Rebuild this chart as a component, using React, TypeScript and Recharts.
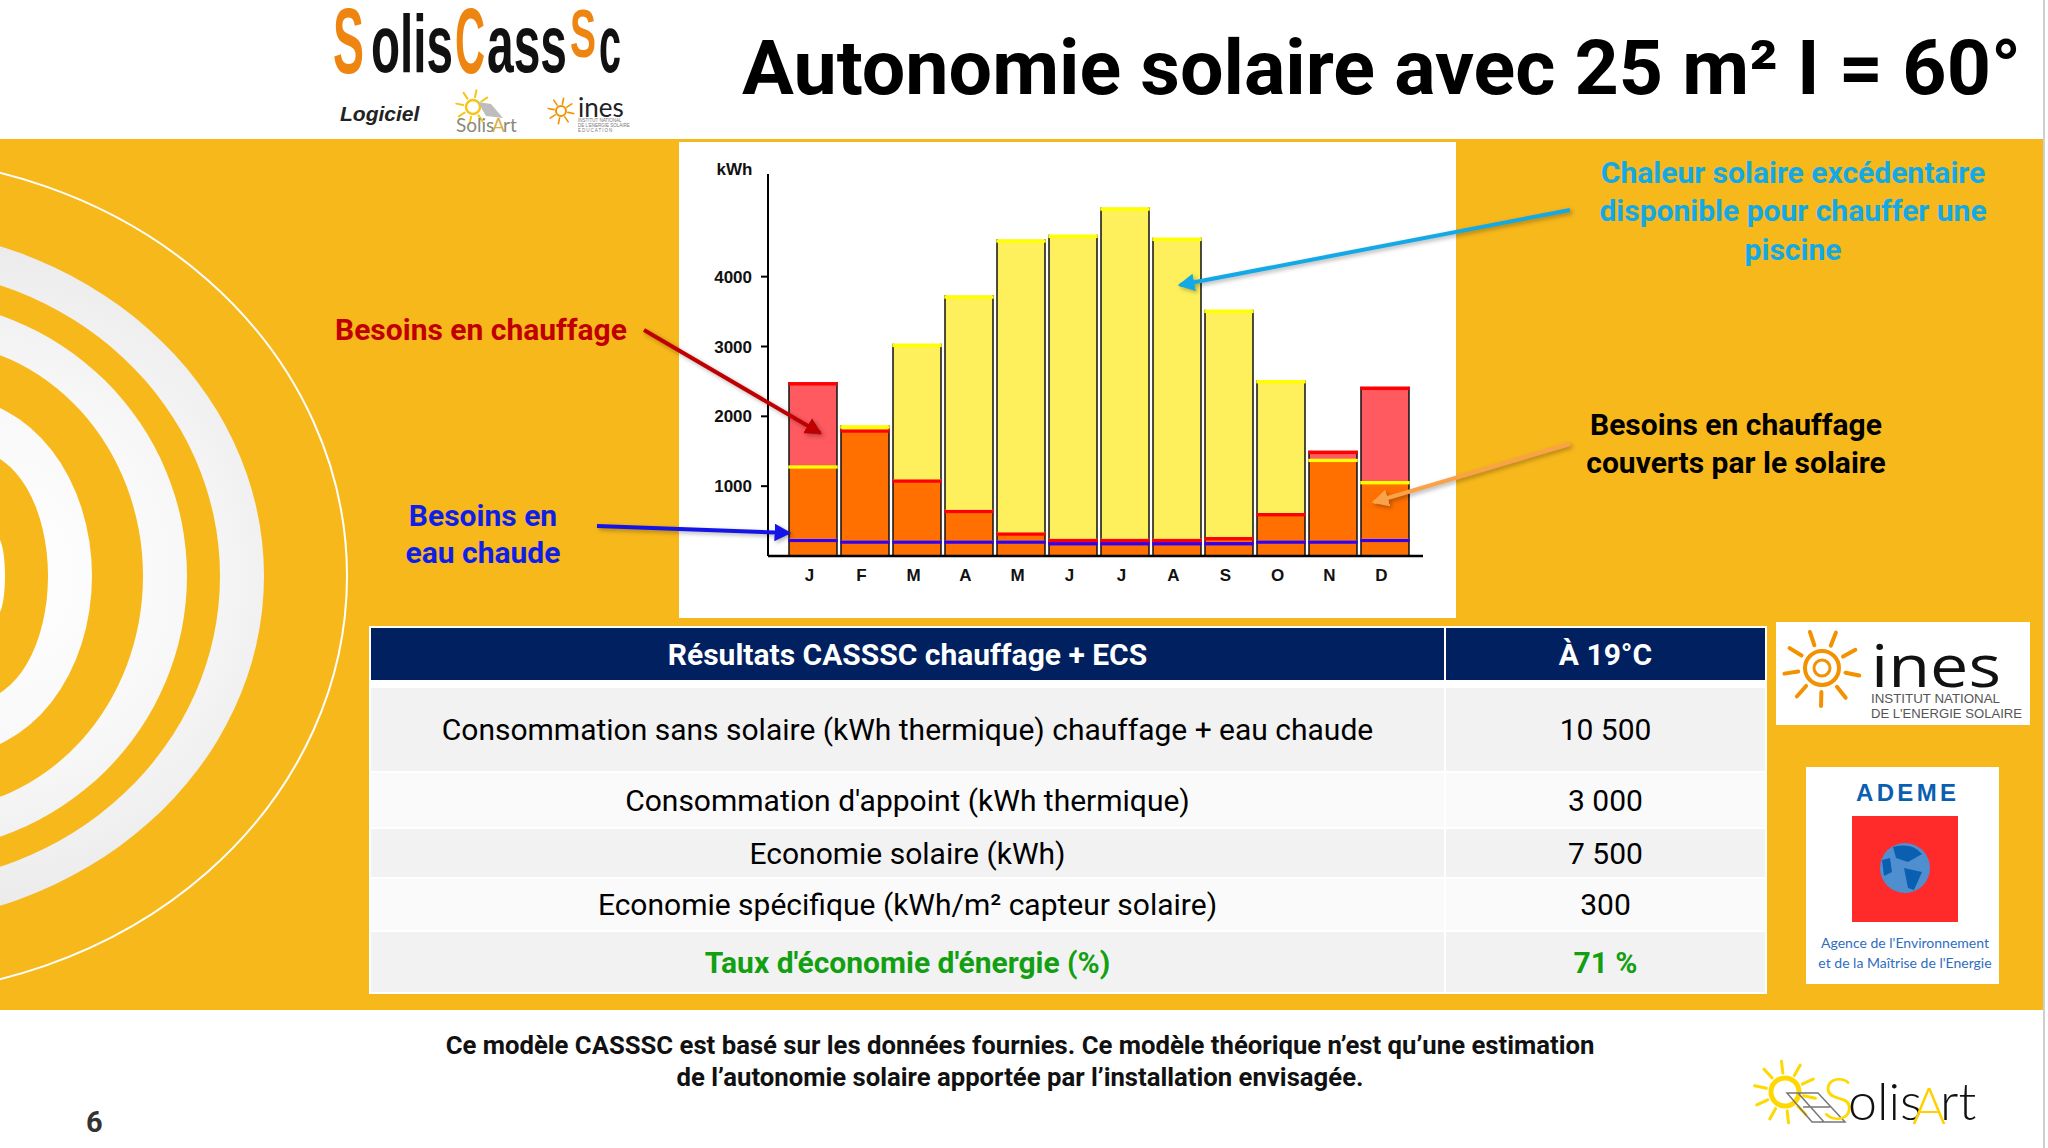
import { BarChart, Bar, XAxis, YAxis } from "recharts"

const months = ["J", "F", "M", "A", "M", "J", "J", "A", "S", "O", "N", "D"]
const heatNeeds = [2490, 1814, 1098, 663, 339, 248, 248, 248, 272, 616, 1508, 2425]
const solarOutput = [1300, 1871, 3040, 3732, 4534, 4601, 4992, 4558, 3527, 2520, 1394, 1074]
const hotWater = [248, 224, 224, 224, 224, 200, 200, 200, 200, 224, 224, 248]
const yTicks = [1000, 2000, 3000, 4000]

const tableHead = ["Résultats CASSSC chauffage + ECS", "À 19°C"]
const rowLabels = [
  "Consommation sans solaire (kWh thermique) chauffage + eau chaude",
  "Consommation d'appoint (kWh thermique)",
  "Economie solaire (kWh)",
  "Economie spécifique (kWh/m² capteur solaire)",
  "Taux d'économie d'énergie (%)",
]
const rowValues = ["10 500", "3 000", "7 500", "300", "71 %"]
const rowHeights = [85, 56, 50, 53, 62]

const chartData = months.map((month, i) => {
  const covered = Math.min(heatNeeds[i], solarOutput[i])
  return {
    key: i,
    month,
    hotWater: hotWater[i],
    covered: covered - hotWater[i],
    surplus: Math.max(0, solarOutput[i] - heatNeeds[i]),
    deficit: Math.max(0, heatNeeds[i] - solarOutput[i]),
  }
})

const BAND = "#F7B81C"
const ORANGE = "#FF7000"
const CAP_RED = "#FF0000"
const CAP_YELLOW = "#FFFF00"
const CAP_BLUE = "#3300EE"
const SUN = "#F39200"

// bar piece with black sides and a coloured band on its top edge
function Segment({ x, y, width, height, fill, cap }: any) {
  if (!height || height <= 0) return null
  return (
    <g>
      <rect x={x} y={y} width={width} height={height} fill={fill} />
      <line x1={x} y1={y} x2={x} y2={y + height} stroke="#111" strokeWidth={1.5} />
      <line x1={x + width} y1={y} x2={x + width} y2={y + height} stroke="#111" strokeWidth={1.5} />
      <rect x={x - 0.7} y={y} width={width + 1.4} height={3.4} fill={cap} />
    </g>
  )
}

function Sun({ cx, cy, r1, r2, color, rays = 8, w = 3 }: any) {
  const list = Array.from({ length: rays }, (_, i) => (i * 2 * Math.PI) / rays + 0.2)
  return (
    <g>
      {list.map((a, i) => (
        <line
          key={i}
          x1={cx + r1 * Math.cos(a)}
          y1={cy + r1 * Math.sin(a)}
          x2={cx + r2 * Math.cos(a)}
          y2={cy + r2 * Math.sin(a)}
          stroke={color}
          strokeWidth={w}
          strokeLinecap="round"
        />
      ))}
    </g>
  )
}

function Ring({ e, h, fill }: any) {
  return <ellipse cx={-0.5 * e} cy={576} rx={1.5 * e} ry={h * 1.06} fill={fill} />
}

// narrow logo lettering: em is the natural width of the word in the font
function Squeezed({ x, y, w, em, size, color, children }: any) {
  return (
    <text
      transform={`translate(${x} ${y}) scale(${w / (em * size)} 1)`}
      fontFamily="Liberation Sans"
      fontWeight={700}
      fontSize={size}
      fill={color}
    >
      {children}
    </text>
  )
}

function Backdrop() {
  const t = { fontFamily: "Roboto", fontWeight: 700 }
  return (
    <svg width={2048} height={1148} style={{ position: "absolute", left: 0, top: 0 }}>
      <defs>
        <radialGradient id="ringFill" gradientUnits="userSpaceOnUse" cx={0} cy={576} r={400}>
          <stop offset="0" stopColor="#ffffff" />
          <stop offset="0.45" stopColor="#f8f8f8" />
          <stop offset="0.8" stopColor="#ececec" />
          <stop offset="1" stopColor="#dddddd" />
        </radialGradient>
        <clipPath id="bandClip">
          <rect x={0} y={139} width={2043} height={871} />
        </clipPath>
      </defs>
      <rect x={0} y={139} width={2043} height={871} fill={BAND} />
      <rect x={2043} y={0} width={2} height={1148} fill="#cfcfcf" />
      <g clipPath="url(#bandClip)">
        <ellipse cx={-130} cy={576} rx={477} ry={419} fill="none" stroke="#fff" strokeWidth={2} />
        <Ring e={264} h={330} fill="url(#ringFill)" />
        <Ring e={220} h={291} fill={BAND} />
        <Ring e={187} h={261} fill="url(#ringFill)" />
        <Ring e={143} h={221} fill={BAND} />
        <Ring e={92} h={168} fill="url(#ringFill)" />
        <Ring e={48} h={117} fill={BAND} />
        <Ring e={5} h={36} fill="url(#ringFill)" />
      </g>

      {/* logo SolisCassSc */}
      <Squeezed x={333} y={73} w={31} em={0.667} size={92} color="#EE8510">S</Squeezed>
      <Squeezed x={371} y={72} w={82} em={1.723} size={82} color="#111">olis</Squeezed>
      <Squeezed x={455} y={73} w={30} em={0.722} size={92} color="#EE8510">C</Squeezed>
      <Squeezed x={487} y={72} w={80} em={1.668} size={82} color="#111">ass</Squeezed>
      <Squeezed x={570} y={57} w={26} em={0.667} size={69} color="#EE8510">S</Squeezed>
      <Squeezed x={599} y={72} w={22} em={0.556} size={82} color="#111">c</Squeezed>
      <text x={340} y={121} fontFamily="Liberation Sans" fontWeight={700} fontStyle="italic" fontSize={21} fill="#222">
        Logiciel
      </text>
      <Sun cx={473} cy={107} r1={10} r2={17} color="#F5C518" w={2} />
      <circle cx={473} cy={107} r={7} fill="none" stroke="#F5C518" strokeWidth={2.5} />
      <path d="M478 102 L491 104 L503 118 L486 116 Z" fill="#BDBDBD" />
      <text x={456} y={132} fontFamily="Lato" fontSize={19} fill="#8a8a7a">Solis</text>
      <text x={492} y={132} fontFamily="Lato" fontSize={19} fill="#D8B04A">A</text>
      <text x={503} y={132} fontFamily="Lato" fontSize={19} fill="#8a8a7a">rt</text>
      <Sun cx={561} cy={111} r1={7} r2={13} color={SUN} w={1.6} />
      <circle cx={561} cy={111} r={5} fill="none" stroke={SUN} strokeWidth={2} />
      <text x={578} y={117} fontFamily="Lato" fontSize={26} fill="#222">ines</text>
      <g fontFamily="Liberation Sans" fontSize={4.5} fill="#777">
        <text x={578} y={122}>INSTITUT NATIONAL</text>
        <text x={578} y={127}>DE L'ENERGIE SOLAIRE</text>
        <text x={578} y={132} letterSpacing={1}>EDUCATION</text>
      </g>

      {/* title */}
      <text x={742} y={94} {...t} fontSize={76} fill="#000" textLength={1279} lengthAdjust="spacingAndGlyphs">
        Autonomie solaire avec 25 m² I = 60°
      </text>

      {/* white panel behind the chart */}
      <rect x={679} y={142} width={777} height={476} fill="#fff" />

      {/* annotations */}
      <g {...t} fontSize={30} textAnchor="middle">
        <g fill="#12A9E6">
          <text x={1793} y={183}>Chaleur solaire excédentaire</text>
          <text x={1793} y={221}>disponible pour chauffer une</text>
          <text x={1793} y={260}>piscine</text>
        </g>
        <text x={481} y={340} fill="#C00000">Besoins en chauffage</text>
        <g fill="#0F1FE8">
          <text x={483} y={526}>Besoins en</text>
          <text x={483} y={563}>eau chaude</text>
        </g>
        <g fill="#000">
          <text x={1736} y={435}>Besoins en chauffage</text>
          <text x={1736} y={473}>couverts par le solaire</text>
        </g>
      </g>

      {/* logo INES */}
      <rect x={1776} y={622} width={254} height={103} fill="#fff" />
      <Sun cx={1822} cy={668} r1={24} r2={38} color={SUN} rays={9} w={4} />
      <circle cx={1822} cy={668} r={17} fill="none" stroke={SUN} strokeWidth={4} />
      <circle cx={1822} cy={668} r={8} fill="none" stroke={SUN} strokeWidth={3} />
      <text x={1871} y={687} fontFamily="Open Sans" fontSize={58} fill="#111" textLength={130} lengthAdjust="spacingAndGlyphs">
        ines
      </text>
      <text x={1871} y={703} fontFamily="Liberation Sans" fontSize={13.5} fill="#555" textLength={129} lengthAdjust="spacingAndGlyphs">
        INSTITUT NATIONAL
      </text>
      <text x={1871} y={718} fontFamily="Liberation Sans" fontSize={13.5} fill="#555" textLength={151} lengthAdjust="spacingAndGlyphs">
        DE L'ENERGIE SOLAIRE
      </text>

      {/* logo ADEME */}
      <rect x={1806} y={767} width={193} height={217} fill="#fff" />
      <text x={1856} y={801} fontFamily="Liberation Sans" fontWeight={700} fontSize={24} fill="#0A5FB0" textLength={100}>
        ADEME
      </text>
      <rect x={1852} y={816} width={106} height={106} fill="#FF2A2A" />
      <circle cx={1905} cy={868} r={25} fill="#4F8FD0" />
      <path d="M1893 847 Q1912 842 1922 854 L1908 862 L1896 858 Z M1904 868 L1922 872 L1914 890 L1908 888 Z M1882 860 L1890 858 L1892 872 L1884 876 Z" fill="#0A5FB0" />
      <g fontFamily="Lato" fontSize={14} fill="#2E6DBF" textAnchor="middle">
        <text x={1905} y={948}>Agence de l'Environnement</text>
        <text x={1905} y={968}>et de la Maîtrise de l'Energie</text>
      </g>

      {/* note + page number */}
      <g {...t} fontSize={25.7} textAnchor="middle" fill="#111">
        <text x={1020} y={1054}>Ce modèle CASSSC est basé sur les données fournies. Ce modèle théorique n’est qu’une estimation</text>
        <text x={1020} y={1086}>de l’autonomie solaire apportée par l’installation envisagée.</text>
      </g>
      <text x={86} y={1132} {...t} fontSize={29} fill="#333">6</text>

      {/* logo Solisart */}
      <Sun cx={1785} cy={1092} r1={19} r2={31} color="#FFD800" rays={10} w={3} />
      <circle cx={1785} cy={1092} r={14} fill="none" stroke="#FFD800" strokeWidth={5} />
      <path d="M1787 1093 L1818 1093 L1845 1122 L1812 1122 Z M1798 1093 L1824 1122 M1803 1107 L1830 1107" fill="none" stroke="#777" strokeWidth={1.5} />
      <text x={1822} y={1120} fontFamily="Lato" fontWeight={300} fontSize={60} fill="#FFD800">S</text>
      <text x={1848} y={1120} fontFamily="Lato" fontWeight={300} fontSize={52} fill="#111">olis</text>
      <text x={1912} y={1124} fontFamily="Lato" fontWeight={300} fontSize={52} fill="#FFD000">A</text>
      <text x={1940} y={1120} fontFamily="Lato" fontWeight={300} fontSize={52} fill="#111">rt</text>
    </svg>
  )
}

function Arrows() {
  const lines = [
    { id: "a1", c: "#C00000", p: [644, 330, 820, 433] },
    { id: "a2", c: "#12A9E6", p: [1570, 210, 1180, 285] },
    { id: "a3", c: "#1414E6", p: [597, 526, 789, 533] },
    { id: "a4", c: "#F9A24A", p: [1570, 444, 1374, 502] },
  ]
  return (
    <svg
      width={2048}
      height={1148}
      style={{ position: "absolute", left: 0, top: 0, pointerEvents: "none", filter: "drop-shadow(2px 2px 2px rgba(0,0,0,0.3))" }}
    >
      <defs>
        {lines.map(l => (
          <marker key={l.id} id={l.id} markerWidth={4.5} markerHeight={4.5} refX={3.6} refY={2.2} orient="auto" markerUnits="strokeWidth">
            <path d="M0 0 L4.2 2.2 L0 4.4 Z" fill={l.c} />
          </marker>
        ))}
      </defs>
      {lines.map(l => (
        <line key={l.id} x1={l.p[0]} y1={l.p[1]} x2={l.p[2]} y2={l.p[3]} stroke={l.c} strokeWidth={4} markerEnd={`url(#${l.id})`} />
      ))}
    </svg>
  )
}

function ResultsTable() {
  const cell = { textAlign: "center" as const, padding: 0, border: "2px solid #fff" }
  return (
    <table
      style={{
        position: "absolute",
        left: 369,
        top: 626,
        width: 1396,
        borderCollapse: "collapse",
        tableLayout: "fixed",
        fontFamily: "Roboto",
        fontSize: 30,
        background: "#fff",
      }}
    >
      <colgroup>
        <col style={{ width: 1075 }} />
        <col style={{ width: 321 }} />
      </colgroup>
      <thead>
        <tr style={{ background: "#002060", color: "#fff", height: 54, fontWeight: 700, fontSize: 30 }}>
          {tableHead.map(h => (
            <th key={h} style={cell}>{h}</th>
          ))}
        </tr>
        <tr style={{ height: 6 }}>
          <td colSpan={2} style={{ padding: 0, background: "#fff" }} />
        </tr>
      </thead>
      <tbody>
        {rowLabels.map((label, i) => {
          const last = i === rowLabels.length - 1
          const style = {
            height: rowHeights[i],
            background: i % 2 ? "#FAFAFA" : "#F2F2F2",
            color: last ? "#12A012" : "#000",
            fontWeight: last ? 700 : 400,
          }
          return (
            <tr key={label} style={style}>
              <td style={cell}>{label}</td>
              <td style={cell}>{rowValues[i]}</td>
            </tr>
          )
        })}
      </tbody>
    </table>
  )
}

const tickFont = { fontFamily: "Liberation Sans", fontWeight: 700, fontSize: 17, fill: "#111" }

export default function App() {
  return (
    <div style={{ position: "absolute", left: 0, top: 0, width: 2048, height: 1148, background: "#fff", overflow: "hidden" }}>
      <Backdrop />
      <div style={{ position: "absolute", left: 679, top: 142 }}>
        <BarChart width={777} height={476} data={chartData} margin={{ top: 32, right: 33, left: 0, bottom: 0 }} barSize={48}>
          <XAxis
            dataKey="key"
            tickFormatter={(i: number) => months[i]}
            height={62}
            padding={{ left: 19, right: 12 }}
            tickLine={false}
            tickMargin={7}
            axisLine={{ stroke: "#000", strokeWidth: 2.5 }}
            tick={{ ...tickFont, dx: -3.5 }}
            interval={0}
          />
          <YAxis
            width={89}
            domain={[0, 5470]}
            ticks={yTicks}
            tickSize={7}
            tickMargin={9}
            axisLine={{ stroke: "#000", strokeWidth: 2 }}
            tickLine={{ stroke: "#000", strokeWidth: 2 }}
            tick={tickFont}
            label={{ value: "kWh", position: "top", dx: 11, dy: 6, style: tickFont }}
          />
          <Bar dataKey="hotWater" stackId="m" fill={ORANGE} isAnimationActive={false}
            shape={(p: any) => <Segment {...p} cap={CAP_BLUE} />} />
          <Bar dataKey="covered" stackId="m" fill={ORANGE} isAnimationActive={false}
            shape={(p: any) => <Segment {...p} cap={p.payload.deficit > 0 ? CAP_YELLOW : CAP_RED} />} />
          <Bar dataKey="surplus" stackId="m" fill="#FEF05C" isAnimationActive={false}
            shape={(p: any) => <Segment {...p} cap={CAP_YELLOW} />} />
          <Bar dataKey="deficit" stackId="m" fill="#FF5A5F" isAnimationActive={false}
            shape={(p: any) => <Segment {...p} cap={CAP_RED} />} />
        </BarChart>
      </div>
      <ResultsTable />
      <Arrows />
    </div>
  )
}
